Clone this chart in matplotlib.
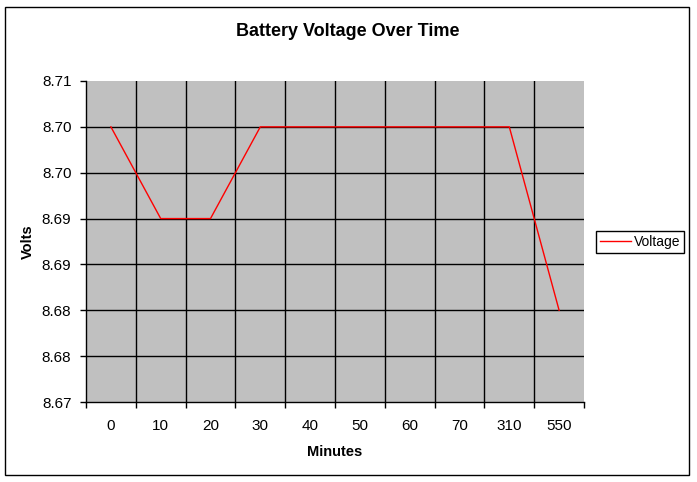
import numpy as np
import matplotlib.pyplot as plt
from matplotlib.patches import Rectangle

# データ
minutes = ['0', '10', '20', '30', '40', '50', '60', '70', '310', '550']
voltage = [8.70, 8.69, 8.69, 8.70, 8.70, 8.70, 8.70, 8.70, 8.70, 8.68]
y_ticks = [8.670, 8.675, 8.680, 8.685, 8.690, 8.695, 8.700, 8.705]
y_labels = ['8.67', '8.68', '8.68', '8.69', '8.69', '8.70', '8.70', '8.71']

plt.rcParams['font.family'] = ['Liberation Sans', 'DejaVu Sans']

fig = plt.figure(figsize=(6.97, 4.82), dpi=100)
ax = fig.add_axes([86 / 697, 80 / 482, 498 / 697, 321 / 482])
ax.set_facecolor('#C0C0C0')

x = np.arange(len(minutes))
ax.plot(x, voltage, color='red', lw=1.0, label='Voltage', zorder=3)

# 軸範囲
ax.set_xlim(-0.5, len(minutes) - 0.5)
ax.set_ylim(y_ticks[0], y_ticks[-1])

# グリッド（カテゴリ境界と目盛り）
bounds = np.arange(len(minutes) + 1) - 0.5
for b in bounds[1:-1]:
    ax.axvline(b, color='black', lw=1.0, zorder=2)
for t in y_ticks[1:-1]:
    ax.axhline(t, color='black', lw=1.0, zorder=2)

ax.set_xticks(x)
ax.set_xticklabels(minutes)
ax.set_xticks(bounds, minor=True)
ax.tick_params(axis='x', which='major', length=0, pad=12, labelsize=11)
ax.tick_params(axis='x', which='minor', length=4, width=1, direction='out')
ax.set_yticks(y_ticks)
ax.set_yticklabels(y_labels)
ax.tick_params(axis='y', length=4, width=1, direction='out', pad=6.5, labelsize=11)

for s in ['top', 'right']:
    ax.spines[s].set_visible(False)
for s in ['left', 'bottom']:
    ax.spines[s].set_color('black')
    ax.spines[s].set_linewidth(1.0)

ax.set_xlabel('Minutes', fontsize=10.5, fontweight='bold', labelpad=9)
ax.set_ylabel('Volts', fontsize=10.5, fontweight='bold')
ax.yaxis.set_label_coords(-51 / 498, 0.5)
fig.text(348 / 697, 1 - 31 / 482, 'Battery Voltage Over Time', fontsize=13,
         fontweight='bold', ha='center', va='center')

# 凡例
leg = fig.legend(loc='center left', bbox_to_anchor=(596 / 697, 1 - 242 / 482),
                 fontsize=10, frameon=True, fancybox=False, framealpha=1,
                 edgecolor='black', handlelength=2.2, handletextpad=0.2,
                 borderpad=0.3, borderaxespad=0)
leg.get_frame().set_linewidth(1.0)

# 外枠
fig.patches.append(Rectangle((5 / 697, 7 / 482), 684 / 697, 468 / 482,
                             transform=fig.transFigure, fill=False,
                             edgecolor='black', lw=1.0))

fig.savefig('out.png', dpi=100)
